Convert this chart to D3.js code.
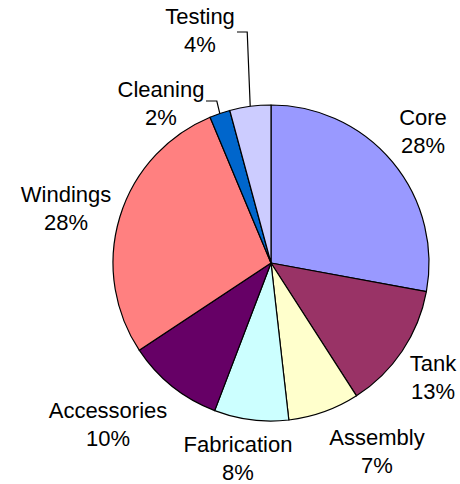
<!DOCTYPE html>
<html>
<head>
<meta charset="utf-8">
<title>Cost breakdown</title>
<script src="https://cdn.jsdelivr.net/npm/d3@7"></script>
<style>
  body { margin: 0; background: #fff; }
  svg text { font-family: "Liberation Sans", Arial, sans-serif; font-size: 22px; fill: #000; }
</style>
</head>
<body>
<script>

// slices, clockwise from 12 o'clock
var categories = ["Core", "Tank", "Assembly", "Fabrication", "Accessories", "Windings", "Cleaning", "Testing"];
var values = [27.9, 13.0, 7.3, 7.6, 9.9, 28.0, 2.1, 4.2];
var colors = ["#9999ff", "#993366", "#ffffcc", "#ccffff", "#660066", "#ff8080", "#0066cc", "#ccccff"];

// where excel put each label (centre x, first baseline), relative to pie centre
var labelPos = [[152, -138], [162, 108], [106, 182], [-33, 189], [-163, 155], [-205, -61], [-110, -166], [-71, -239]];
// slices whose label gets a leader line
var leaders = {"Cleaning": true, "Testing": true};

var width = 460, height = 484;
var cx = 271, cy = 263, radius = 158;

var svg = d3.select("body").append("svg")
  .attr("width", width)
  .attr("height", height);

var g = svg.append("g")
  .attr("transform", "translate(" + cx + "," + cy + ")");

var total = d3.sum(values);

var pie = d3.pie().sort(null).value(function(d) { return d.value; });
var arc = d3.arc().innerRadius(0).outerRadius(radius);

var data = categories.map(function(c, i) {
  return {name: c, value: values[i], color: colors[i], pos: labelPos[i]};
});
var arcs = pie(data);

g.selectAll("path.slice")
  .data(arcs)
  .enter().append("path")
  .attr("class", "slice")
  .attr("d", arc)
  .style("fill", function(d) { return d.data.color; })
  .style("stroke", "#000")
  .style("stroke-width", 1.2)
  .style("stroke-linejoin", "round");

// leader lines: short horizontal stub next to the label, then to the rim
arcs.filter(function(d) { return leaders[d.data.name]; }).forEach(function(d) {
  var a = (d.startAngle + d.endAngle) / 2;
  var ex = Math.sin(a) * radius, ey = -Math.cos(a) * radius;
  var sx, sy;
  if (d.data.name == "Testing") { sx = d.data.pos[0] + 37; sy = d.data.pos[1] + 8; }
  else { sx = d.data.pos[0] + 45; sy = d.data.pos[1] + 4; }
  g.append("path")
    .attr("d", "M" + sx + "," + sy + "H" + (ex - 3) + "L" + ex + "," + ey)
    .style("fill", "none")
    .style("stroke", "#000")
    .style("stroke-width", 1.2);
});

var labels = g.selectAll("text.label")
  .data(arcs)
  .enter().append("text")
  .attr("class", "label")
  .attr("text-anchor", "middle")
  .attr("transform", function(d) { return "translate(" + d.data.pos[0] + "," + d.data.pos[1] + ")"; });

labels.append("tspan")
  .attr("x", 0)
  .text(function(d) { return d.data.name; });

labels.append("tspan")
  .attr("x", 0)
  .attr("dy", 27.5)
  .text(function(d) { return Math.round(d.data.value / total * 100) + "%"; });

</script>
</body>
</html>
